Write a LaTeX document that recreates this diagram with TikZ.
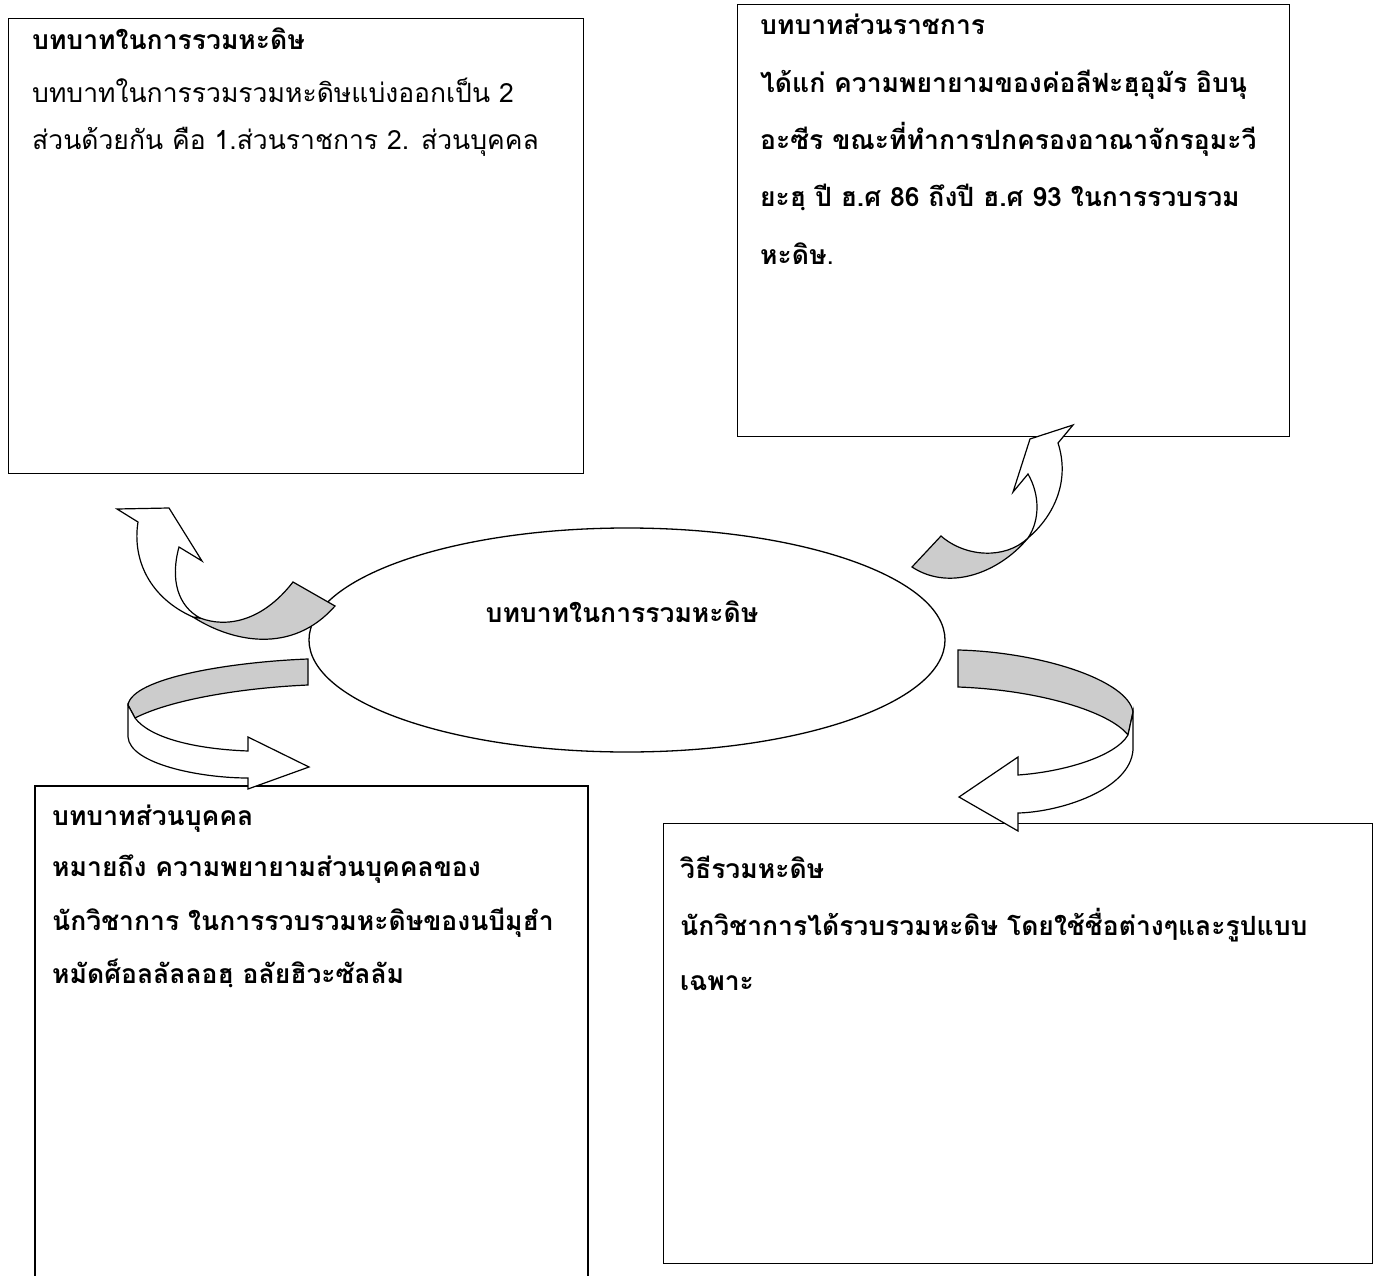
\documentclass[tikz,border=0pt]{standalone}
\usepackage{fontspec}
\newfontfamily\thai[Script=Thai]{Loma}
\begin{document}
\begin{tikzpicture}[x=1pt,y=-1pt,
  box/.style={draw=black, line width=1.3pt},
  rib/.style={draw=black, line width=1.2pt, line join=miter},
  back/.style={rib, fill=black!20},
  front/.style={rib, fill=white},
  tl/.style={anchor=base west, inner sep=0pt, font=\thai\fontsize{26.5}{32}\selectfont\bfseries},
  tr/.style={anchor=base west, inner sep=0pt, font=\thai\fontsize{26.5}{32}\selectfont}]
\useasboundingbox (0,0) rectangle (1376,1276);
% boxes
\node[box, anchor=north west, minimum width=575pt, minimum height=455pt, inner sep=0pt] (b1) at (8,18) {};
\node[box, anchor=north west, minimum width=552pt, minimum height=432pt, inner sep=0pt] (b2) at (737,4) {};
\draw[box] (35,1280) |- (588,786) -- (588,1280);
\node[box, anchor=north west, minimum width=709pt, minimum height=440pt, inner sep=0pt] (b4) at (663,823) {};
% ellipse
\draw[box] (627,640) ellipse [x radius=318, y radius=112];
\node[tl, anchor=base] (c) at (622,622) {บทบาทในการรวมหะดิษ};
% top-left curved arrow
\path[back] (193,617) .. controls (232,642) and (292,655) .. (335,606) -- (293,582) .. controls (262,622) and (226,628) .. (200,618) -- cycle;
\path[front] (138,522) -- (117,509) -- (169,508) -- (202,561) -- (179,547) .. controls (170,580) and (178,606) .. (200,618) -- (193,617) .. controls (150,598) and (132,560) .. (138,522) -- cycle;
% top-right curved arrow
\path[back] (1028,538) .. controls (1000,572) and (950,592) .. (912,567) -- (941,536) .. controls (965,557) and (1005,560) .. (1028,538) -- cycle;
\path[front] (1058,443) -- (1073,425) -- (1030,439) -- (1013,492) -- (1028,474) .. controls (1040,495) and (1040,520) .. (1028,538) .. controls (1055,515) and (1070,480) .. (1058,443) -- cycle;
% bottom-left curved arrow
\path[back] (308,659) .. controls (230,662) and (132,678) .. (128,705) -- (135,718) .. controls (170,700) and (240,688) .. (308,685) -- cycle;
\path[front] (128,705) -- (128,737) .. controls (130,764) and (200,778) .. (248,778) -- (248,789) -- (309,767) -- (248,737) -- (248,751) .. controls (195,749) and (150,738) .. (135,718) -- cycle;
% bottom-right curved arrow
\path[back] (958,650) .. controls (1040,652) and (1128,680) .. (1133,712) -- (1128,735) .. controls (1110,712) and (1040,690) .. (958,687) -- cycle;
\path[front] (1133,712) -- (1133,750) .. controls (1130,790) and (1060,812) .. (1018,813) -- (1018,831) -- (959,797) -- (1018,757) -- (1018,775) .. controls (1062,772) and (1115,757) .. (1128,735) -- cycle;
% box 1 text
\node[tl] (t1a) at (32,50) {บทบาทในการรวมหะดิษ};
\node[tr] (t1b) at (32,103) {บทบาทในการรวมรวมหะดิษแบ่งออกเป็น 2};
\node[tr] (t1c) at (32,150) {ส่วนด้วยกัน คือ 1.ส่วนราชการ 2. ส่วนบุคคล};
% box 2 text
\node[tl] (t2a) at (760,35) {บทบาทส่วนราชการ};
\node[tl] (t2b) at (760,93) {ได้แก่ ความพยายามของค่อลีฟะฮฺอุมัร อิบนุ};
\node[tl] (t2c) at (760,150) {อะซีร ขณะที่ทำการปกครองอาณาจักรอุมะวี};
\node[tl] (t2d) at (760,207) {ยะฮฺ ปี ฮ.ศ 86 ถึงปี ฮ.ศ 93 ในการรวบรวม};
\node[tl] (t2e) at (760,265) {หะดิษ{\mdseries .}};
% box 3 text
\node[tl] (t3a) at (52,825) {บทบาทส่วนบุคคล};
\node[tl] (t3b) at (52,876) {หมายถึง ความพยายามส่วนบุคคลของ};
\node[tl] (t3c) at (52,930) {นักวิชาการ ในการรวบรวมหะดิษของนบีมุฮำ};
\node[tl] (t3d) at (52,983) {หมัดศ็อลลัลลอฮฺ อลัยฮิวะซัลลัม};
% box 4 text
\node[tl] (t4a) at (680,878) {วิธีรวมหะดิษ};
\node[tl] (t4b) at (680,935) {นักวิชาการได้รวบรวมหะดิษ โดยใช้ชื่อต่างๆและรูปแบบ};
\node[tl] (t4c) at (680,990) {เฉพาะ};
\end{tikzpicture}
\end{document}
